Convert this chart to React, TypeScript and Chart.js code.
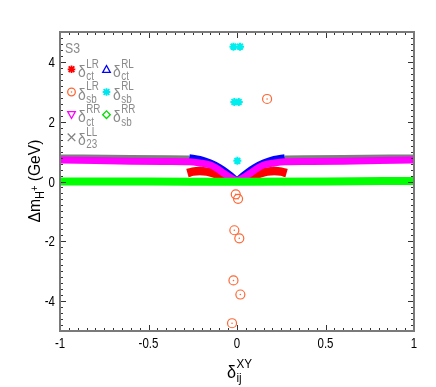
import React, { useEffect, useRef } from 'react';
import { Chart, registerables } from 'chart.js';
Chart.register(...registerables);

// Axis ticks
const xTicks = [-1, -0.5, 0, 0.5, 1];
const yTicks = [-4, -2, 0, 2, 4];
const xTickLabels = ['-1', '-0.5', '0', '0.5', '1'];
const yTickLabels = ['-4', '-2', '0', '2', '4'];

// delta_23^LL (gray band, gap near centre)
const llX = [-1, -0.6, -0.27, null, 0.27, 0.6, 1];
const llY = [0.79, 0.77, 0.75, null, 0.75, 0.77, 0.79];

// delta_ct^LR (red arcs)
const ctLRX = [-0.28, -0.25, -0.21, -0.17, -0.13, -0.1, -0.07, -0.04, -0.02, null, 0.02, 0.04, 0.07, 0.1, 0.13, 0.17, 0.21, 0.25, 0.28];
const ctLRY = [0.28, 0.33, 0.35, 0.33, 0.27, 0.2, 0.13, 0.06, 0.02, null, 0.02, 0.06, 0.13, 0.2, 0.27, 0.33, 0.35, 0.33, 0.28];

// delta_ct^RL (blue arcs)
const ctRLX = [-0.27, -0.21, -0.15, -0.1, -0.06, -0.03, -0.01, null, 0.01, 0.03, 0.06, 0.1, 0.15, 0.21, 0.27];
const ctRLY = [0.8, 0.74, 0.62, 0.47, 0.31, 0.17, 0.06, null, 0.06, 0.17, 0.31, 0.47, 0.62, 0.74, 0.8];

// delta_ct^RR (magenta band)
const ctRRX = [-1, -0.8, -0.6, -0.4, -0.27, -0.21, -0.15, -0.12, -0.07, -0.03, 0, 0.03, 0.07, 0.12, 0.15, 0.21, 0.27, 0.4, 0.6, 0.8, 1];
const ctRRY = [0.72, 0.7, 0.68, 0.67, 0.66, 0.62, 0.55, 0.46, 0.26, 0.11, 0.03, 0.11, 0.26, 0.46, 0.55, 0.62, 0.66, 0.67, 0.68, 0.7, 0.72];

// delta_sb^RR (green band)
const sbRRX = [-1, -0.5, 0, 0.5, 1];
const sbRRY = [0.0, 0.0, -0.01, 0.0, 0.02];

// delta_sb^LR (orange circles)
const sbLRX = [0.17, -0.007, 0.006, -0.015, 0.013, -0.02, 0.019, -0.028];
const sbLRY = [2.76, -0.43, -0.58, -1.63, -1.9, -3.31, -3.78, -4.74];

// delta_sb^RL (cyan asterisks)
const sbRLX = [-0.02, 0.017, -0.015, 0.01, 0.002];
const sbRLY = [4.51, 4.51, 2.66, 2.66, 0.69];

const FONT = "'Liberation Sans', Arial, Helvetica, sans-serif";
const NARROW = 0.82;

const pts = (xs: (number | null)[], ys: (number | null)[]) =>
  xs.map((x, i) => ({ x: x as any, y: ys[i] as any }));

function ntext(ctx: CanvasRenderingContext2D, t: string, x: number, y: number, align: CanvasTextAlign, sx = NARROW) {
  ctx.save();
  ctx.translate(x, y);
  ctx.scale(sx, 1);
  ctx.textAlign = align;
  ctx.textBaseline = 'alphabetic';
  ctx.fillText(t, 0, 0);
  ctx.restore();
}

function drawMarker(ctx: CanvasRenderingContext2D, kind: string, x: number, y: number, color: string) {
  ctx.save();
  ctx.strokeStyle = color;
  ctx.fillStyle = color;
  ctx.lineWidth = 1.3;
  const r = 3.8;
  ctx.beginPath();
  if (kind === 'star') {
    ctx.lineWidth = 1.8;
    ctx.moveTo(x - r, y); ctx.lineTo(x + r, y);
    ctx.moveTo(x, y - r); ctx.lineTo(x, y + r);
    const d = r * 0.75;
    ctx.moveTo(x - d, y - d); ctx.lineTo(x + d, y + d);
    ctx.moveTo(x - d, y + d); ctx.lineTo(x + d, y - d);
    ctx.stroke();
  } else if (kind === 'cross') {
    ctx.moveTo(x - r, y - r); ctx.lineTo(x + r, y + r);
    ctx.moveTo(x - r, y + r); ctx.lineTo(x + r, y - r);
    ctx.stroke();
  } else if (kind === 'tri') {
    ctx.moveTo(x, y - r); ctx.lineTo(x + r, y + r * 0.8); ctx.lineTo(x - r, y + r * 0.8); ctx.closePath();
    ctx.stroke();
  } else if (kind === 'triDown') {
    ctx.moveTo(x, y + r); ctx.lineTo(x + r, y - r * 0.8); ctx.lineTo(x - r, y - r * 0.8); ctx.closePath();
    ctx.stroke();
  } else if (kind === 'circle') {
    ctx.arc(x, y, r, 0, Math.PI * 2);
    ctx.stroke();
    ctx.beginPath();
    ctx.arc(x, y, 0.8, 0, Math.PI * 2);
    ctx.fill();
  } else if (kind === 'diamond') {
    ctx.moveTo(x, y - r); ctx.lineTo(x + r, y); ctx.lineTo(x, y + r); ctx.lineTo(x - r, y); ctx.closePath();
    ctx.stroke();
  }
  ctx.restore();
}

function drawDelta(ctx: CanvasRenderingContext2D, x: number, baseY: number, sup: string, sub: string, color: string, big: number, small: number, sx: number) {
  ctx.save();
  ctx.fillStyle = color;
  ctx.font = `${big}px ${FONT}`;
  ntext(ctx, 'δ', x, baseY, 'left', sx);
  const w = ctx.measureText('δ').width * sx;
  ctx.font = `${small}px ${FONT}`;
  ntext(ctx, sup, x + w + 0.5, baseY - big * 0.75 + small * 0.3, 'left', sx);
  ntext(ctx, sub, x + w + 0.5, baseY + small * 0.3, 'left', sx);
  ctx.restore();
}

const decorPlugin = {
  id: 'decor',
  afterDraw(chart: any) {
    const ctx: CanvasRenderingContext2D = chart.ctx;
    const { left, right, top, bottom } = chart.chartArea;
    const xs = chart.scales.x;
    const ys = chart.scales.y;
    ctx.save();
    // ticks
    ctx.strokeStyle = '#333';
    ctx.lineWidth = 1;
    ctx.beginPath();
    for (let i = -20; i <= 20; i++) {
      const v = i * 0.05;
      const px = Math.round(xs.getPixelForValue(v)) + 0.5;
      const major = i % 10 === 0;
      const len = major ? 6 : 3;
      ctx.moveTo(px, bottom); ctx.lineTo(px, bottom - len);
      ctx.moveTo(px, top); ctx.lineTo(px, top + len);
    }
    for (let i = -25; i <= 25; i++) {
      const v = i * 0.2;
      const py = Math.round(ys.getPixelForValue(v)) + 0.5;
      const major = i % 10 === 0;
      const len = major ? 6 : 3;
      ctx.moveTo(left, py); ctx.lineTo(left + len, py);
      ctx.moveTo(right, py); ctx.lineTo(right - len, py);
    }
    ctx.stroke();
    // frame
    ctx.strokeStyle = '#7a7a7a';
    ctx.lineWidth = 2;
    ctx.strokeRect(left, top, right - left, bottom - top);

    // tick labels
    ctx.fillStyle = '#000';
    ctx.font = `14px ${FONT}`;
    xTicks.forEach((v, i) => {
      ntext(ctx, xTickLabels[i], xs.getPixelForValue(v), 348, 'center');
    });
    yTicks.forEach((v, i) => {
      ntext(ctx, yTickLabels[i], 55, ys.getPixelForValue(v) + 5, 'right');
    });

    // legend
    const gray = '#8a8a8a';
    ctx.fillStyle = gray;
    ctx.font = `15px ${FONT}`;
    ntext(ctx, 'S3', 65, 53, 'left');
    const rows = [69.3, 92, 114.7, 137.3];
    const c1m = 71.5, c1t = 78, c2m = 106.5, c2t = 113;
    const entries = [
      { col: 0, row: 0, kind: 'star', color: '#ff0000', sup: 'LR', sub: 'ct' },
      { col: 1, row: 0, kind: 'tri', color: '#0000ff', sup: 'RL', sub: 'ct' },
      { col: 0, row: 1, kind: 'circle', color: '#ff6633', sup: 'LR', sub: 'sb' },
      { col: 1, row: 1, kind: 'star', color: '#00e5ee', sup: 'RL', sub: 'sb' },
      { col: 0, row: 2, kind: 'triDown', color: '#ff00ff', sup: 'RR', sub: 'ct' },
      { col: 1, row: 2, kind: 'diamond', color: '#00dd00', sup: 'RR', sub: 'sb' },
      { col: 0, row: 3, kind: 'cross', color: '#808080', sup: 'LL', sub: '23' },
    ];
    for (const e of entries) {
      const my = rows[e.row];
      const mx = e.col === 0 ? c1m : c2m;
      const tx = e.col === 0 ? c1t : c2t;
      drawMarker(ctx, e.kind, mx, my, e.color);
      drawDelta(ctx, tx, my + 7.5, e.sup, e.sub, gray, 17, 12, NARROW);
    }

    // x title
    drawDelta(ctx, 227, 378, 'XY', 'ij', '#000', 18, 13, 0.9);

    // y title (rotated)
    ctx.save();
    ctx.translate(40, 181);
    ctx.rotate(-Math.PI / 2);
    ctx.fillStyle = '#000';
    ctx.textBaseline = 'alphabetic';
    const big = `17px ${FONT}`;
    const small = `12px ${FONT}`;
    const tiny = `10px ${FONT}`;
    const sx = 0.92;
    const parts: { t: string; f: string; dy: number }[] = [
      { t: 'Δm', f: big, dy: 0 },
      { t: 'H', f: small, dy: 4 },
      { t: '+', f: tiny, dy: -2 },
      { t: ' (GeV)', f: big, dy: 0 },
    ];
    let total = 0;
    for (const p of parts) { ctx.font = p.f; total += ctx.measureText(p.t).width * sx; }
    let cx = -total / 2;
    for (const p of parts) {
      ctx.font = p.f;
      ntext(ctx, p.t, cx, p.dy, 'left', sx);
      cx += ctx.measureText(p.t).width * sx;
    }
    ctx.restore();
    ctx.restore();
  },
};

export default function App() {
  const ref = useRef<HTMLCanvasElement | null>(null);
  useEffect(() => {
    if (!ref.current) return;
    const band = (data: any[], color: string, width: number, order: number) => ({
      data,
      showLine: true,
      borderColor: color,
      backgroundColor: color,
      borderWidth: width,
      pointRadius: 0,
      borderCapStyle: 'butt',
      borderJoinStyle: 'round',
      tension: 0.4,
      cubicInterpolationMode: 'monotone',
      spanGaps: false,
      order,
    });
    const chart = new Chart(ref.current, {
      type: 'scatter',
      data: {
        datasets: [
          band(pts(llX, llY), '#7f7f7f', 7, 6) as any,
          band(pts(ctLRX, ctLRY), '#ff0000', 8.5, 5) as any,
          band(pts(ctRLX, ctRLY), '#0000ff', 7, 4) as any,
          band(pts(ctRRX, ctRRY), '#ff00ff', 7, 3) as any,
          band(pts(sbRRX, sbRRY), '#00ff00', 8, 2) as any,
          {
            data: pts(sbLRX, sbLRY),
            showLine: false,
            pointStyle: 'circle',
            pointRadius: 4.5,
            borderColor: '#ff6633',
            backgroundColor: 'rgba(0,0,0,0)',
            borderWidth: 1.2,
            order: 1,
          } as any,
          {
            data: pts(sbLRX, sbLRY),
            showLine: false,
            pointStyle: 'circle',
            pointRadius: 0.8,
            borderWidth: 0,
            backgroundColor: '#ff6633',
            order: 1,
          } as any,
          {
            data: pts(sbRLX, sbRLY),
            showLine: false,
            pointStyle: 'star',
            pointRadius: 4,
            borderColor: '#00eeee',
            borderWidth: 2,
            order: 0,
          } as any,
        ],
      },
      options: {
        animation: false,
        responsive: false,
        devicePixelRatio: 1,
        layout: { padding: { left: 0, top: 32, right: 22, bottom: 0 } },
        plugins: { legend: { display: false }, tooltip: { enabled: false } },
        scales: {
          x: {
            type: 'linear',
            min: -1,
            max: 1,
            grid: { display: false },
            border: { display: false },
            afterBuildTicks: (s: any) => { s.ticks = xTicks.map((v) => ({ value: v })); },
            afterFit: (s: any) => { s.height = 56; },
            ticks: { display: false },
          },
          y: {
            type: 'linear',
            min: -5,
            max: 5,
            grid: { display: false },
            border: { display: false },
            afterBuildTicks: (s: any) => { s.ticks = yTicks.map((v) => ({ value: v })); },
            afterFit: (s: any) => { s.width = 60; },
            ticks: { display: false },
          },
        },
      } as any,
      plugins: [decorPlugin as any],
    });
    return () => chart.destroy();
  }, []);
  return (
    <div style={{ position: 'fixed', left: 0, top: 0, width: 436, height: 387, background: '#fff' }}>
      <canvas ref={ref} width={436} height={387} style={{ width: 436, height: 387 }} />
    </div>
  );
}
